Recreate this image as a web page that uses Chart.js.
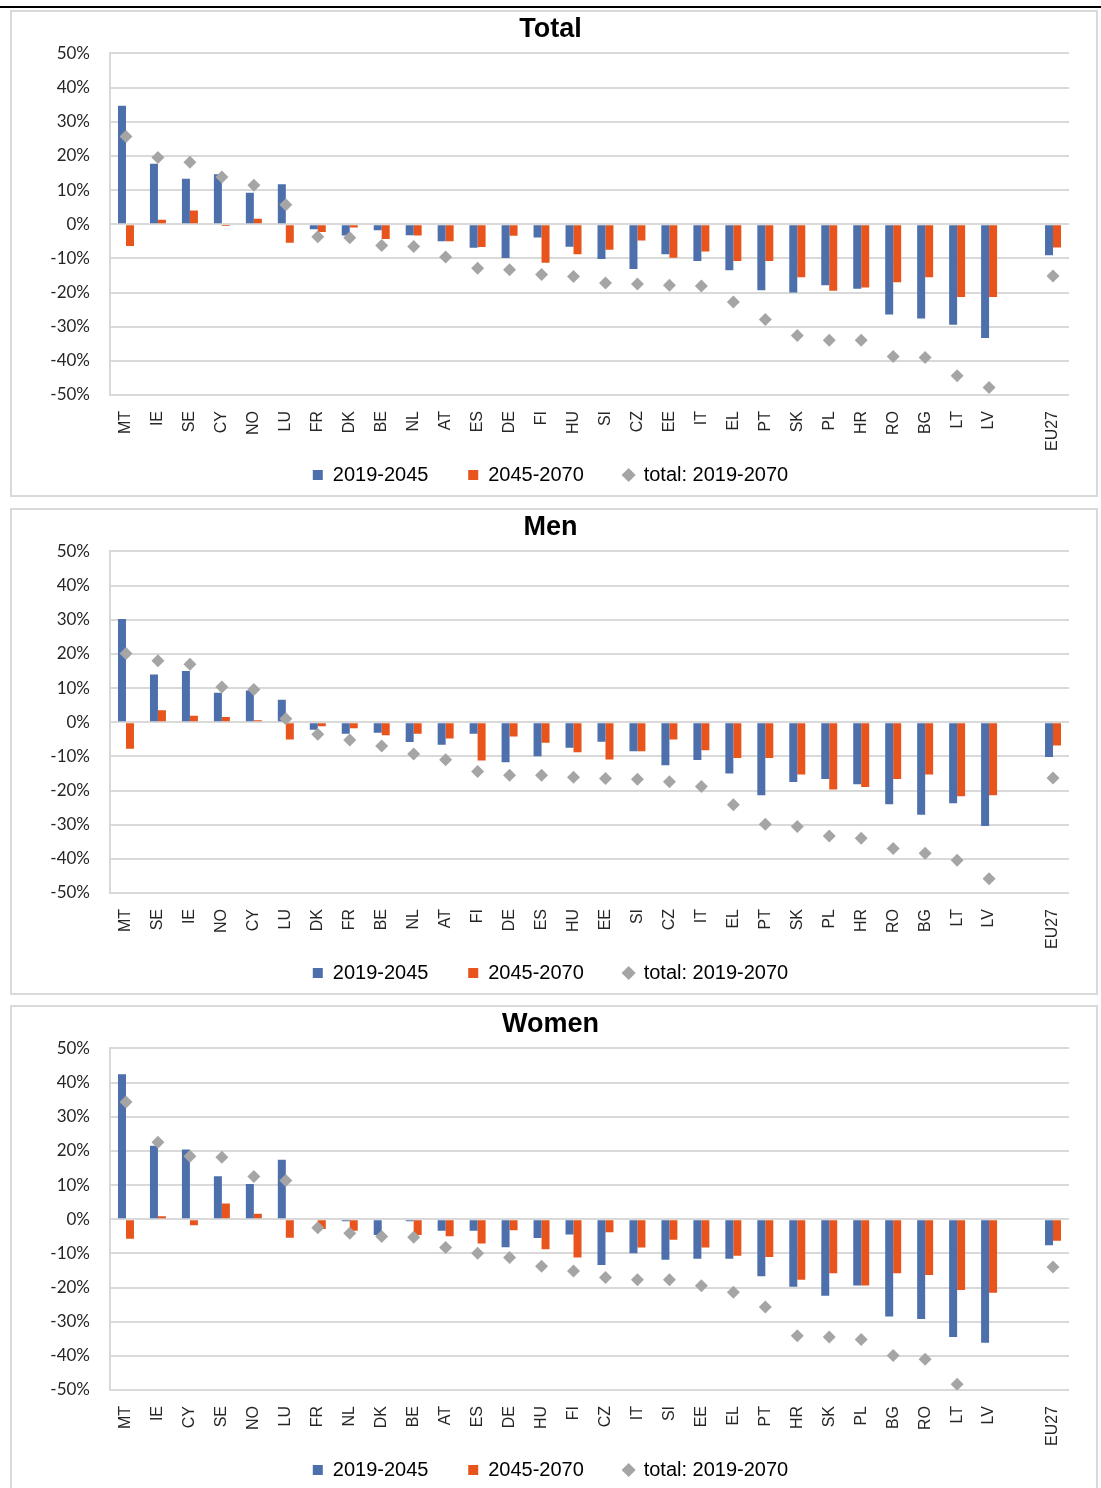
<!DOCTYPE html>
<html>
<head>
<meta charset="utf-8">
<title>Change in population by sex</title>
<script src="https://cdn.jsdelivr.net/npm/chart.js@4.4.1/dist/chart.umd.min.js"></script>
<style>
  body { margin: 0; background: #fff; width: 1101px; height: 1488px; overflow: hidden; position: relative; }
  .rule { position: absolute; left: 0; top: 6px; width: 1101px; height: 2px; background: #000; }
  .panel { position: absolute; left: 10px; width: 1088px; height: 487px; box-sizing: border-box; border: 2px solid #d9d9d9; background: #fff; }
  .panel div { position: relative; width: 1084px; height: 483px; }
</style>
</head>
<body>
<div class="rule"></div>
<div class="panel" style="top:10px"><div><canvas id="total"></canvas></div></div>
<div class="panel" style="top:508px"><div><canvas id="men"></canvas></div></div>
<div class="panel" style="top:1005px"><div><canvas id="women"></canvas></div></div>

<script>
// values in % change ("" = empty gap before EU27)
const totalCountries = ["MT","IE","SE","CY","NO","LU","FR","DK","BE","NL","AT","ES","DE","FI","HU","SI","CZ","EE","IT","EL","PT","SK","PL","HR","RO","BG","LT","LV","","EU27"];
const total2045 = [34.7, 17.7, 13.3, 14.6, 9.2, 11.7, -1.5, -3.3, -1.8, -3.2, -5.0, -6.9, -9.9, -3.9, -6.6, -10.2, -13.1, -8.8, -10.8, -13.5, -19.3, -20.0, -17.9, -18.9, -26.4, -27.6, -29.4, -33.3, null, -9.1];
const total2070 = [-6.4, 1.3, 4.0, -0.5, 1.6, -5.4, -2.3, -1.0, -4.3, -3.3, -5.0, -6.7, -3.4, -11.3, -8.8, -7.5, -4.8, -9.8, -8.0, -10.8, -10.8, -15.5, -19.5, -18.5, -17.0, -15.5, -21.3, -21.3, null, -6.8];
const totalAll = [25.7, 19.5, 18.1, 13.8, 11.4, 5.7, -3.7, -4.0, -6.2, -6.5, -9.6, -12.9, -13.3, -14.7, -15.3, -17.2, -17.5, -17.9, -18.1, -22.8, -27.9, -32.6, -34.0, -34.0, -38.7, -39.0, -44.4, -47.8, null, -15.2];

const menCountries = ["MT","SE","IE","NO","CY","LU","DK","FR","BE","NL","AT","FI","DE","ES","HU","EE","SI","CZ","IT","EL","PT","SK","PL","HR","RO","BG","LT","LV","","EU27"];
const men2045 = [30.2, 14.0, 15.0, 8.6, 9.3, 6.6, -2.2, -3.4, -3.1, -5.8, -6.6, -3.4, -11.7, -10.0, -7.5, -5.7, -8.5, -12.6, -11.1, -15.0, -21.4, -17.5, -16.6, -18.2, -24.0, -27.1, -23.7, -30.4, null, -10.2];
const men2070 = [-7.8, 3.5, 1.9, 1.5, 0.6, -5.1, -1.2, -1.8, -3.8, -3.4, -4.8, -11.2, -4.2, -6.0, -8.8, -10.9, -8.5, -5.1, -8.2, -10.5, -10.5, -15.3, -19.7, -19.0, -16.6, -15.3, -21.7, -21.4, null, -6.8];
const menAll = [20.1, 18.0, 17.0, 10.3, 9.6, 1.0, -3.5, -5.2, -7.0, -9.3, -11.0, -14.4, -15.5, -15.5, -16.1, -16.5, -16.7, -17.4, -18.8, -24.2, -29.9, -30.5, -33.3, -34.0, -37.0, -38.4, -40.4, -45.8, null, -16.3];

const womenCountries = ["MT","IE","CY","SE","NO","LU","FR","NL","DK","BE","AT","ES","DE","HU","FI","CZ","IT","SI","EE","EL","PT","HR","SK","PL","BG","RO","LT","LV","","EU27"];
const women2045 = [42.4, 21.5, 20.4, 12.6, 10.3, 17.4, 0.3, -0.6, -4.6, -0.6, -3.4, -3.4, -8.2, -5.5, -4.5, -13.4, -10.0, -11.9, -11.6, -11.6, -16.7, -19.8, -22.4, -19.4, -28.5, -29.2, -34.5, -36.2, null, -7.6];
const women2070 = [-5.7, 0.9, -1.8, 4.6, 1.6, -5.4, -2.9, -3.4, -0.3, -4.6, -5.0, -7.1, -3.2, -8.8, -11.2, -3.8, -8.3, -6.0, -8.3, -10.7, -11.1, -17.7, -15.8, -19.4, -15.8, -16.3, -20.7, -21.5, null, -6.3];
// LV total is off the bottom of the axis in the original, so no marker
const womenAll = [34.3, 22.5, 18.4, 18.1, 12.5, 11.3, -2.5, -4.1, -5.1, -5.3, -8.3, -10.0, -11.2, -13.8, -15.2, -17.1, -17.7, -17.7, -19.5, -21.4, -25.7, -34.1, -34.5, -35.2, -39.9, -41.0, -48.3, null, null, -14.0];

const seriesNames = ["2019-2045", "2045-2070", "total: 2019-2070"];
const colors = ["#4d6fab", "#e8541c", "#a5a5a5"];

Chart.defaults.font.family = "'Liberation Sans', Arial, sans-serif";
Chart.defaults.color = "#262626";

// default legend items, with some trailing room after the first two entries
const legendLabels = (chart) =>
  Chart.defaults.plugins.legend.labels.generateLabels(chart).map((item) => {
    if (item.datasetIndex < 2) item.text += "     ";
    return item;
  });

function makeChart(id, title, labels, first, second, all) {
  const ctx = document.getElementById(id);
  return new Chart(ctx, {
    type: "bar",
    data: {
      labels: labels,
      datasets: [
        { label: seriesNames[0], data: first, backgroundColor: colors[0], borderWidth: 0, pointStyle: "rect",
          categoryPercentage: 0.5, barPercentage: 1.0 },
        { label: seriesNames[1], data: second, backgroundColor: colors[1], borderWidth: 0, pointStyle: "rect",
          categoryPercentage: 0.5, barPercentage: 1.0 },
        { type: "line", label: seriesNames[2], data: all, showLine: false, order: -1,
          backgroundColor: colors[2], borderColor: colors[2], pointStyle: "rectRot",
          pointRadius: 6.5, pointBorderWidth: 0 },
      ],
    },
    options: {
      responsive: true,
      maintainAspectRatio: false,
      animation: false,
      layout: { padding: { left: 20, right: 27, top: 0, bottom: 0 } },
      plugins: {
        title: {
          display: true,
          text: title,
          color: "#000",
          font: { size: 27, weight: "bold" },
          padding: { top: 1, bottom: 8 },
        },
        legend: {
          position: "bottom",
          labels: {
            usePointStyle: true,
            boxWidth: 10,
            boxHeight: 10,
            padding: 12,
            font: { size: 20 },
            color: "#000",
            generateLabels: legendLabels,
            sort: (a, b) => a.datasetIndex - b.datasetIndex,
          },
        },
        tooltip: { enabled: false },
      },
      scales: {
        x: {
          grid: { display: false },
          border: { display: false },
          ticks: {
            autoSkip: false,
            minRotation: 90,
            maxRotation: 90,
            padding: 8,
            font: { size: 16 },
            color: "#262626",
          },
          afterFit: (s) => { s.height = 58; },
        },
        y: {
          min: -50,
          max: 50,
          grid: { color: "#d9d9d9", lineWidth: 2, drawTicks: false },
          border: { display: true, color: "#d9d9d9", width: 2 },
          ticks: {
            stepSize: 10,
            padding: 20,
            font: { family: "Lato, 'Liberation Sans', sans-serif", size: 17 },
            color: "#262626",
            callback: (v) => v + "%",
          },
          afterFit: (s) => { s.width = 78; },
        },
      },
    },
  });
}

makeChart("total", "Total", totalCountries, total2045, total2070, totalAll);
makeChart("men", "Men", menCountries, men2045, men2070, menAll);
makeChart("women", "Women", womenCountries, women2045, women2070, womenAll);
</script>
</body>
</html>
